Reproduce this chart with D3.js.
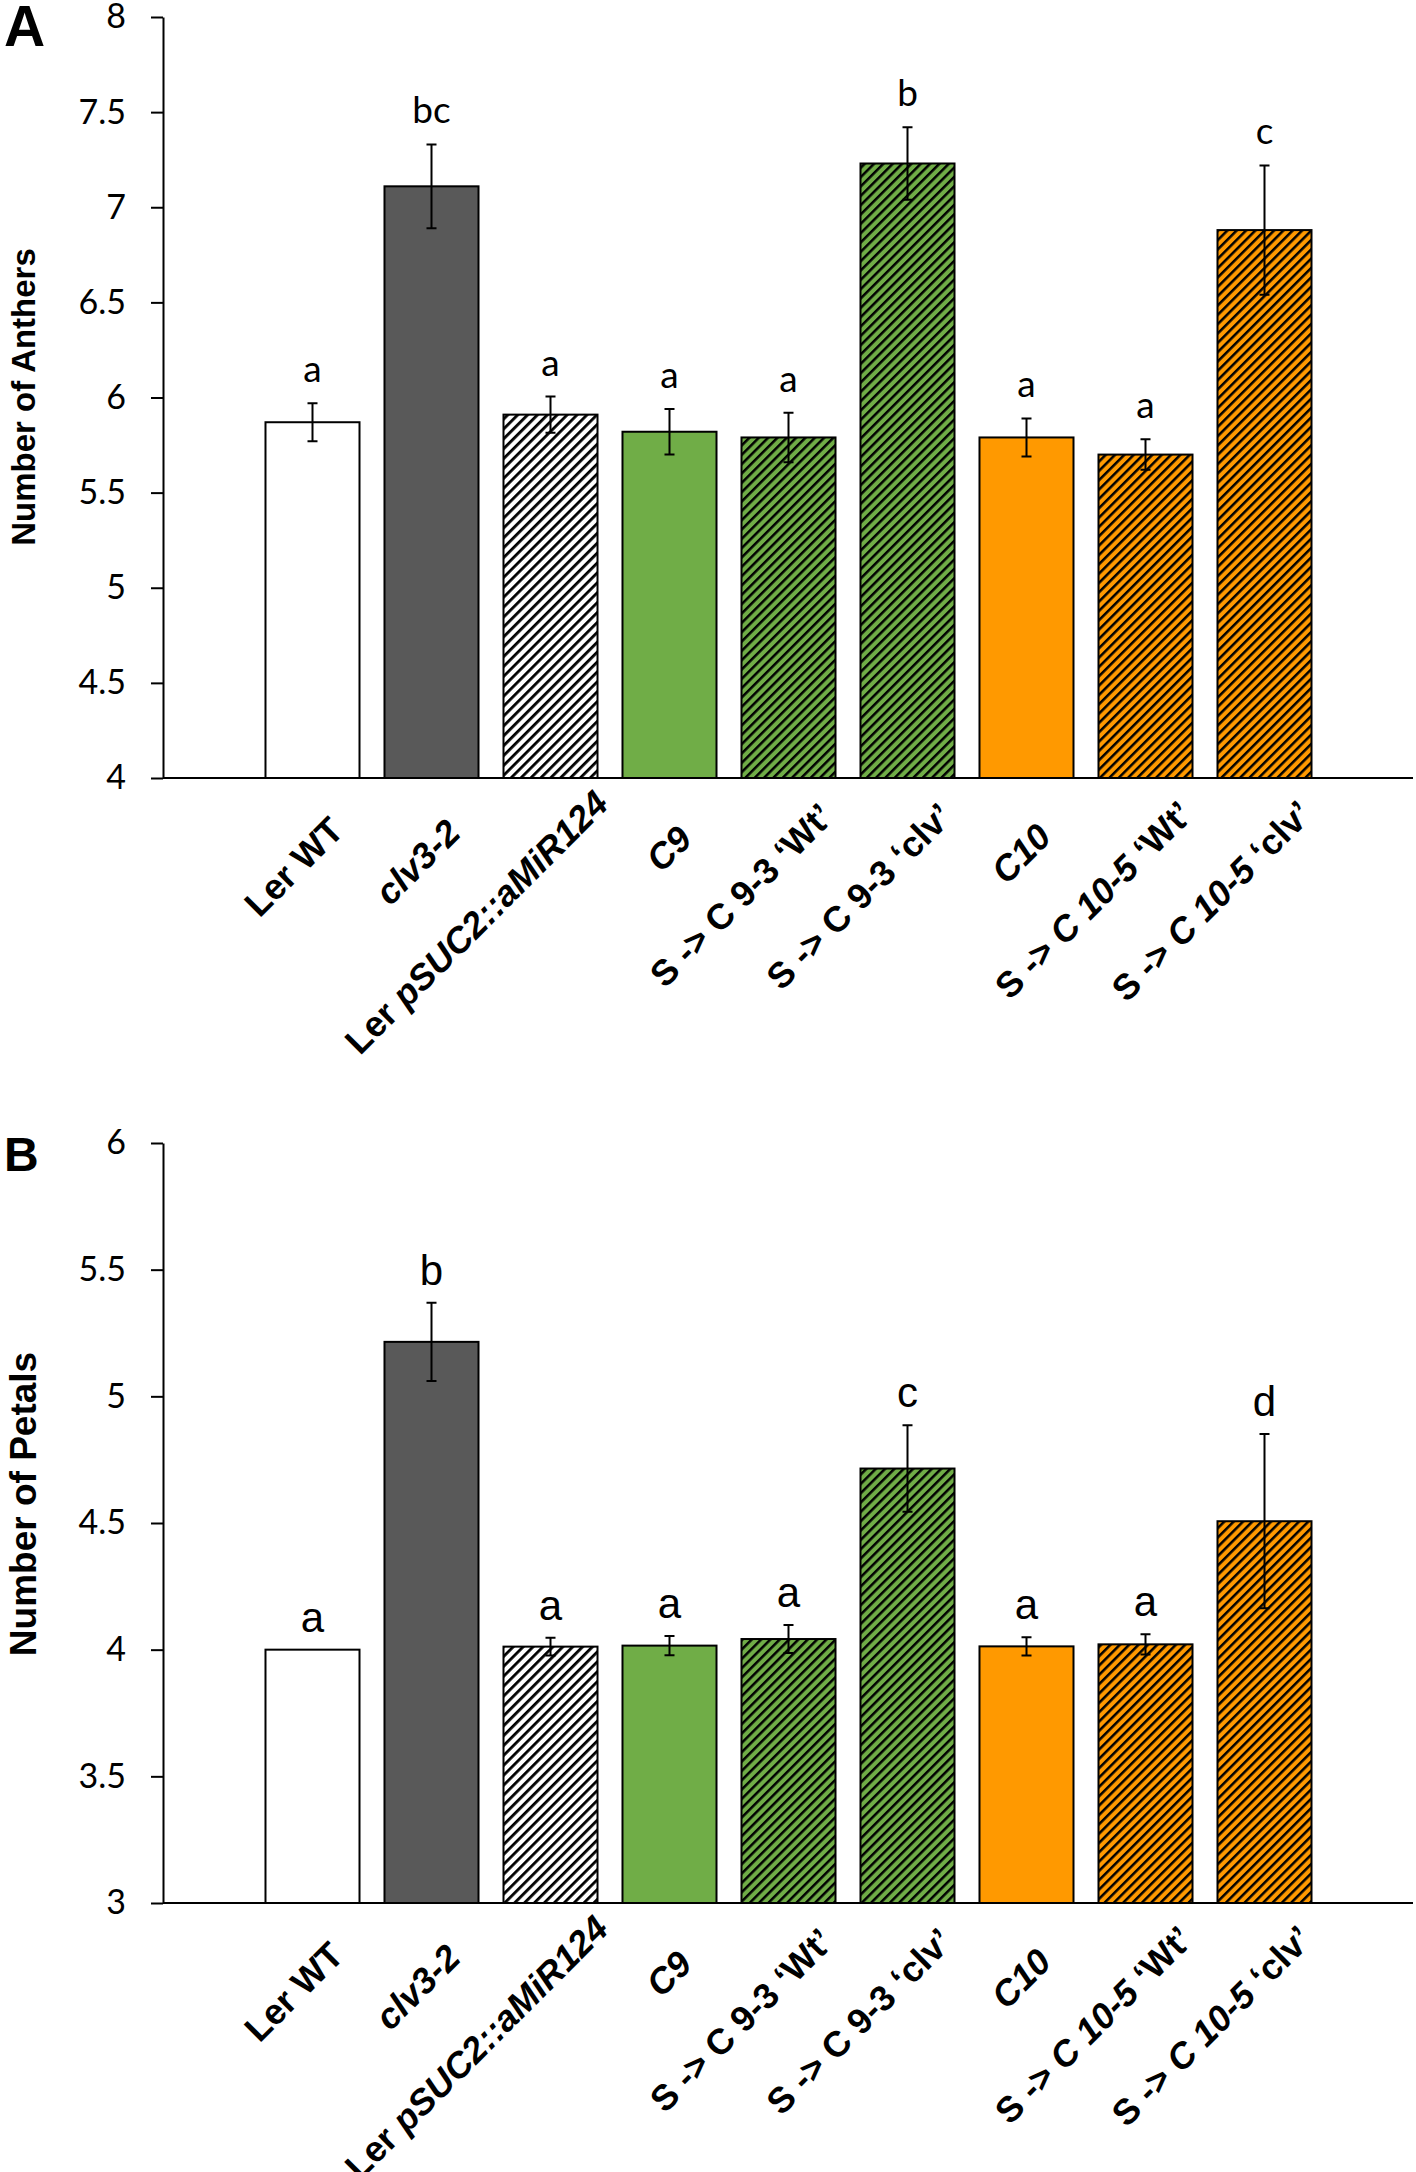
<!DOCTYPE html>
<meta charset="utf-8">
<style>
body { margin: 0; background: #fff; }
.axis path, .axis line { stroke: #000; stroke-width: 2px; }
.axis text { font-family: Lato, "Open Sans", sans-serif; font-size: 34px; fill: #000; }
.xlab { font-family: "Liberation Sans", Arial, sans-serif; font-weight: bold; font-size: 36px; }
.ytitle { font-family: "Liberation Sans", Arial, sans-serif; font-weight: bold; }
.panel { font-family: "Liberation Sans", Arial, sans-serif; font-weight: bold; }
.bar { stroke: #000; stroke-width: 2px; }
.err { stroke: #000; stroke-width: 2px; fill: none; }
</style>
<svg width="1416" height="2172"></svg>
<script src="https://cdn.jsdelivr.net/npm/d3@7"></script>
<script>

var categories = ["Ler WT", "clv3-2", "Ler pSUC2::aMiR124", "C9", "S -> C 9-3 ‘Wt’",
                  "S -> C 9-3 ‘clv’", "C10", "S -> C 10-5 ‘Wt’", "S -> C 10-5 ‘clv’"];

// label pieces: [text, italic]
var tickLabels = [
  [["Ler WT", 0]],
  [["clv3-2", 1]],
  [["Ler ", 0], ["pSUC2::aMiR124", 1]],
  [["C9", 1]],
  [["S -> C 9-3 ‘Wt’", 0]],
  [["S -> C 9-3 ‘clv’", 0]],
  [["C10", 1]],
  [["S -> ", 0], ["C 10-5", 1], [" ‘Wt’", 0]],
  [["S -> ", 0], ["C 10-5", 1], [" ‘clv’", 0]]
];

var antherMeans = [5.87, 7.11, 5.91, 5.82, 5.79, 7.23, 5.79, 5.70, 6.88];
var antherErr   = [0.10, 0.22, 0.095, 0.12, 0.13, 0.19, 0.10, 0.08, 0.34];
var antherLetters = ["a", "bc", "a", "a", "a", "b", "a", "a", "c"];
var antherTicks = [4, 4.5, 5, 5.5, 6, 6.5, 7, 7.5, 8];

var petalMeans = [4.00, 5.215, 4.012, 4.016, 4.042, 4.715, 4.013, 4.021, 4.507];
var petalErr   = [0, 0.154, 0.035, 0.038, 0.055, 0.171, 0.036, 0.04, 0.344];
var petalLetters = ["a", "b", "a", "a", "a", "c", "a", "a", "d"];
var petalTicks = [3, 3.5, 4, 4.5, 5, 5.5, 6];

var fills = ["#ffffff", "#595959", "url(#hatchWhite)", "#70ad47", "url(#hatchGreen)",
             "url(#hatchGreen)", "#ff9900", "url(#hatchOrange)", "url(#hatchOrange)"];

var svg = d3.select("svg");
var defs = svg.append("defs");

function hatch(id, bg, size, sw) {
  var p = defs.append("pattern")
      .attr("id", id)
      .attr("patternUnits", "userSpaceOnUse")
      .attr("width", size).attr("height", size)
      .attr("patternTransform", "rotate(45)");
  p.append("rect").attr("width", size).attr("height", size).attr("fill", bg);
  p.append("rect").attr("width", sw).attr("height", size).attr("fill", "#000");
}
hatch("hatchWhite", "#fff", 7, 2.8);
hatch("hatchGreen", "#70ad47", 6.6, 2.5);
hatch("hatchOrange", "#ff9900", 6.6, 2.5);

var axisX = 163, axisRight = 1413;

var x = d3.scaleBand()
    .domain(categories)
    .range([253, 1324])
    .paddingInner(0.21)
    .paddingOuter(0.105);

function panel(opt) {
  var y = d3.scaleLinear().domain(opt.domain).range([opt.bottom, opt.top]);
  var g = svg.append("g");

  g.append("g")
      .attr("class", "axis")
      .attr("transform", "translate(" + axisX + ",0)")
      .call(d3.axisLeft(y).tickValues(opt.ticks).tickSize(12).tickSizeOuter(0)
            .tickPadding(25).tickFormat(function(d) { return String(d); }));

  var rows = categories.map(function(c, i) {
    return {cat: c, mean: opt.means[i], err: opt.err[i], letter: opt.letters[i], fill: fills[i], label: tickLabels[i]};
  });

  g.selectAll(".bar")
    .data(rows)
    .enter().append("rect")
      .attr("class", "bar")
      .attr("x", function(d) { return x(d.cat); })
      .attr("y", function(d) { return y(d.mean); })
      .attr("width", x.bandwidth())
      .attr("height", function(d) { return y(opt.domain[0]) - y(d.mean); })
      .attr("fill", function(d) { return d.fill; });

  g.selectAll(".eb")
    .data(rows.filter(function(d) { return d.err > 0; }))
    .enter().append("path")
      .attr("class", "err")
      .attr("d", function(d) {
        var cx = x(d.cat) + x.bandwidth() / 2,
            y1 = y(d.mean + d.err), y0 = y(d.mean - d.err);
        return "M" + (cx - 5) + "," + y1 + "H" + (cx + 5) +
               "M" + cx + "," + y1 + "V" + y0 +
               "M" + (cx - 5) + "," + y0 + "H" + (cx + 5);
      });

  g.selectAll(".sig")
    .data(rows)
    .enter().append("text")
      .attr("x", function(d) { return x(d.cat) + x.bandwidth() / 2; })
      .attr("y", function(d) { return y(d.mean + d.err) - opt.letterGap; })
      .attr("text-anchor", "middle")
      .style("font-family", opt.letterFont)
      .style("font-size", opt.letterSize + "px")
      .text(function(d) { return d.letter; });

  // category axis
  var xa = g.append("g")
      .attr("class", "axis")
      .attr("transform", "translate(0," + y(opt.domain[0]) + ")")
      .call(d3.axisBottom(x).tickSize(0).tickFormat(""));
  xa.select(".domain").attr("d", "M" + axisX + ",0H" + axisRight);

  // rotated labels; longer labels slide a little further up the slant (as in the original)
  g.selectAll(".xlab")
    .data(rows)
    .enter().append("text")
      .attr("class", "xlab")
      .attr("text-anchor", "end")
      .attr("transform", function(d) {
        return "translate(" + (x(d.cat) + x.bandwidth() / 2) + "," + y(opt.domain[0]) + ") rotate(-45)";
      })
      .each(function(d) {
        var t = d3.select(this);
        d.label.forEach(function(p) {
          t.append("tspan").attr("font-style", p[1] ? "italic" : "normal").text(p[0]);
        });
        var len = this.getComputedTextLength();
        t.attr("x", -35 + 0.163 * len).attr("y", 62);
      });

  g.append("text")
      .attr("class", "ytitle")
      .attr("transform", "translate(" + opt.titleX + "," + opt.titleY + ") rotate(-90)")
      .attr("text-anchor", "middle")
      .style("font-size", opt.titleSize + "px")
      .text(opt.title);

  g.append("text")
      .attr("class", "panel")
      .attr("x", 4)
      .attr("y", opt.panelY)
      .style("font-size", opt.panelSize + "px")
      .text(opt.panel);
}

panel({
  domain: [4, 8], ticks: antherTicks, top: 17, bottom: 778,
  means: antherMeans, err: antherErr, letters: antherLetters,
  letterGap: 21, letterFont: "Lato, sans-serif", letterSize: 37,
  title: "Number of Anthers", titleSize: 33, titleX: 35, titleY: 397,
  panel: "A", panelY: 46, panelSize: 57
});

panel({
  domain: [3, 6], ticks: petalTicks, top: 1143, bottom: 1903,
  means: petalMeans, err: petalErr, letters: petalLetters,
  letterGap: 18, letterFont: "Liberation Sans, Arial, sans-serif", letterSize: 42,
  title: "Number of Petals", titleSize: 37, titleX: 36, titleY: 1504,
  panel: "B", panelY: 1171, panelSize: 48
});

</script>
